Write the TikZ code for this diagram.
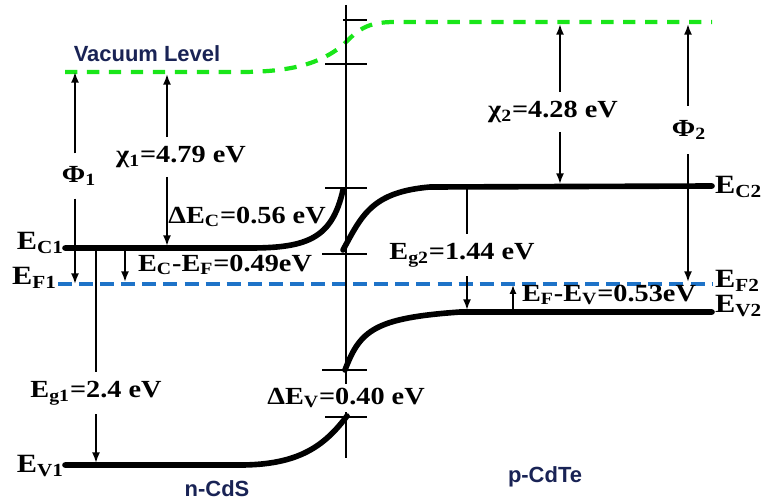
\documentclass[tikz,border=0pt]{standalone}
\usepackage{fontspec}
\setmainfont{Liberation Serif}
\newfontfamily\lblfont[FakeStretch=1.15]{Liberation Serif}
\newfontfamily\capfont{Liberation Sans}
\usetikzlibrary{arrows.meta}
\definecolor{vacgreen}{RGB}{25,230,25}
\definecolor{fermiblue}{RGB}{30,115,200}
\definecolor{capnavy}{RGB}{25,35,85}

\begin{document}
\begin{tikzpicture}[
    x=0.02cm, y=-0.02cm,
    % Styles for the band diagram
    band/.style={line width=3.2pt, draw=black, line cap=round},
    vac/.style={line width=2.4pt, draw=vacgreen, dash pattern=on 7pt off 5.5pt},
    fermi/.style={line width=2.2pt, draw=fermiblue, dash pattern=on 8pt off 4pt},
    junction/.style={line width=1.6pt},
    tick/.style={line width=1.2pt},
    arr/.style={line width=1.1pt, -{Latex[length=6pt,width=4.5pt]}},
    plain/.style={line width=1.1pt},
    val/.style={font=\lblfont\bfseries\fontsize{14}{16}\selectfont, inner xsep=1pt, inner ysep=5pt},
    lvl/.style={font=\lblfont\bfseries\fontsize{15}{17}\selectfont, inner sep=1pt},
    side/.style={font=\capfont\bfseries\fontsize{12.5}{14}\selectfont, text=capnavy}
]
\useasboundingbox (0,0) rectangle (763,500);

        % --- Levels ---
        % Vacuum level
        \draw[vac] (65,72) -- (240,72) .. controls (290,72) and (320,64) .. (343,45)
              .. controls (358,30) and (366,22) .. (395,22) -- (712,22);
        % Fermi level
        \draw[fermi] (58,284) -- (712,284);
        % Conduction band
        \draw[band] (65,248) -- (250,248) .. controls (308,248) and (332,238) .. (343,190);
        \draw[band] (343,250) .. controls (362,215) and (372,192) .. (430,187) -- (712,186);
        % Valence band
        \draw[band] (65,465) -- (240,465) .. controls (300,465) and (325,445) .. (347,416);
        \draw[band] (345,370) .. controls (360,330) and (375,318) .. (460,312) -- (712,312);

        % --- Junction ---
        \coordinate (jtop) at (346,5);
        \coordinate (jbot) at (346,458);
        \node[val, inner ysep=2pt] (dEv) at (346,398) {ΔE\textsubscript{V}=0.40 eV};
        \draw[junction] (jtop) -- (dEv);
        \draw[junction] (dEv) -- (jbot);
        \foreach \ty/\tl in {20/343, 64/325, 188/325, 254/322, 370/322, 417/325}
            \draw[tick] (\tl,\ty) -- (367,\ty);

        % --- Labels of the levels ---
        \node[lvl, anchor=east] (ec1) at (66,243) {E\textsubscript{C1}};
        \node[lvl, anchor=east] (ef1) at (59,278) {E\textsubscript{F1}};
        \node[lvl, anchor=east] (ev1) at (66,466) {E\textsubscript{V1}};
        \node[lvl, anchor=west] (ec2) at (713,187) {E\textsubscript{C2}};
        \node[lvl, anchor=west] (ef2) at (713,281) {E\textsubscript{F2}};
        \node[lvl, anchor=west] (ev2) at (713,306) {E\textsubscript{V2}};
        \node[side] (vaclbl) at (147,54) {Vacuum Level};
        \node[side] (ncds) at (217,489) {n-CdS};
        \node[side] (pcdte) at (545,477) {p-CdTe};

        % --- Arrows, n side ---
        \coordinate (phi1top) at (75,72);
        \coordinate (phi1bot) at (75,284);
        \node[val, inner ysep=7pt] (phi1) at (79,176) {Φ\textsubscript{1}};
        \draw[arr] (phi1.north -| phi1top) -- (phi1top);
        \draw[arr] (phi1.south -| phi1top) -- (phi1bot);

        \coordinate (chi1top) at (167,74);
        \coordinate (chi1bot) at (167,246);
        \node[val] (chi1) at (181,157) {χ\textsubscript{1}=4.79 eV};
        \draw[arr] (chi1.north -| chi1top) -- (chi1top);
        \draw[arr] (chi1.south -| chi1top) -- (chi1bot);

        \node[val] (dEc) at (247,217) {ΔE\textsubscript{C}=0.56 eV};

        \coordinate (ecef1top) at (125,250);
        \coordinate (ecef1bot) at (125,282);
        \draw[arr] (ecef1top) -- (ecef1bot);
        \node[val] (ecef1) at (225,265) {E\textsubscript{C}-E\textsubscript{F}=0.49eV};

        \coordinate (eg1top) at (96,250);
        \coordinate (eg1bot) at (96,463);
        \node[val] (eg1) at (96,393) {E\textsubscript{g1}=2.4 eV};
        \draw[plain] (eg1top) -- (eg1.north -| eg1top);
        \draw[arr] (eg1.south -| eg1top) -- (eg1bot);

        % --- Arrows, p side ---
        \coordinate (chi2top) at (560,24);
        \coordinate (chi2bot) at (560,184);
        \node[val] (chi2) at (553,112) {χ\textsubscript{2}=4.28 eV};
        \draw[arr] (chi2.north -| chi2top) -- (chi2top);
        \draw[arr] (chi2.south -| chi2top) -- (chi2bot);

        \coordinate (phi2top) at (688,24);
        \coordinate (phi2bot) at (688,282);
        \node[val, inner ysep=8pt] (phi2) at (689,130) {Φ\textsubscript{2}};
        \draw[arr] (phi2.north -| phi2top) -- (phi2top);
        \draw[arr] (phi2.south -| phi2top) -- (phi2bot);

        \coordinate (eg2top) at (467,188);
        \coordinate (eg2bot) at (467,310);
        \node[val] (eg2) at (462,255) {E\textsubscript{g2}=1.44 eV};
        \draw[plain] (eg2top) -- (eg2.north -| eg2top);
        \draw[arr] (eg2.south -| eg2top) -- (eg2bot);

        \coordinate (efev2top) at (513,285);
        \coordinate (efev2bot) at (513,311);
        \draw[arr, {Latex[length=5pt,width=4pt]}-] (efev2top) -- (efev2bot);
        \node[val] (efev2) at (609,295) {E\textsubscript{F}-E\textsubscript{V}=0.53eV};

\end{tikzpicture}
\end{document}
